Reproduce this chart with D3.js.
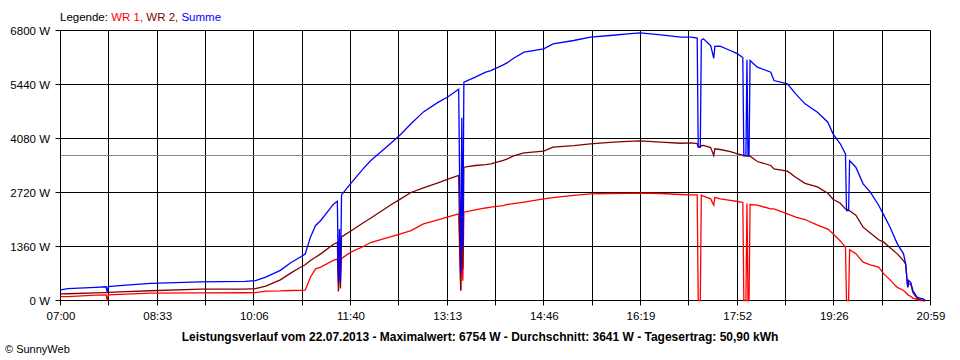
<!DOCTYPE html>
<html>
<head>
<meta charset="utf-8">
<script src="https://cdn.jsdelivr.net/npm/d3@7/dist/d3.min.js"></script>
<style>
  html, body { margin: 0; padding: 0; background: #ffffff; }
  svg { display: block; }
  text { font-family: "Liberation Sans", Arial, sans-serif; }
</style>
</head>
<body>
<svg id="chart" width="960" height="360"></svg>
<script>
// ---- data ----
const times = [
  "07:00","07:07","07:34","07:44","07:45","07:46","08:03","08:27","09:15","09:58",
  "10:08","10:18","10:32","10:42","10:51","10:56","11:01","11:06","11:11","11:23",
  "11:27","11:28","11:29","11:30","11:31","11:40","11:52","11:59","12:18","12:28",
  "12:38","12:50","13:04","13:13","13:24","13:25","13:26","13:27","13:28","13:29",
  "13:40","13:50","13:55","14:07","14:11","14:17","14:27","14:46","14:55","15:15",
  "15:31","15:50","16:07","16:19","16:39","16:58","17:08","17:14","17:15","17:17",
  "17:18","17:20","17:27","17:30","17:31","17:36","17:46","17:53","17:58","17:59",
  "18:01","18:02","18:03","18:04","18:05","18:12","18:25","18:28","18:41","18:49",
  "18:58","19:10","19:20","19:25","19:32","19:37","19:38","19:40","19:41","19:47",
  "19:54","20:01","20:09","20:14","20:20","20:27","20:33","20:35","20:37","20:38",
  "20:40","20:42","20:46","20:49","20:52","20:54"
];
const wr1 = [
  100,100,135,140,0,140,160,185,190,195,
  200,235,240,252,255,260,587,797,840,1010,
  1040,650,900,700,1060,1217,1360,1460,1600,1680,
  1760,1931,2030,2099,2183,1200,250,1800,500,2224,
  2280,2330,2350,2390,2418,2440,2480,2560,2590,2650,
  2686,2695,2700,2703,2695,2670,2660,2660,0,0,
  2650,2627,2560,2400,2600,2560,2520,2493,2470,0,
  0,2440,0,0,2418,2400,2308,2308,2183,2099,
  2040,1900,1800,1679,1500,1343,0,0,1280,1180,
  965,900,840,671,520,330,252,200,150,130,
  100,60,30,0,0,0
];
const wr2 = [
  168,170,190,200,200,205,225,245,285,285,
  300,360,520,690,830,900,1007,1091,1175,1410,
  1460,230,1000,300,1600,1750,1960,2070,2400,2560,
  2720,2837,2963,3050,3150,1500,250,2800,800,3357,
  3400,3420,3442,3530,3568,3640,3720,3760,3861,3900,
  3946,3980,4010,4021,3990,3960,3971,3950,3880,3861,
  3900,3904,3850,3650,3820,3803,3750,3694,3660,3640,
  3640,3634,3634,3634,3634,3500,3400,3316,3256,3106,
  2950,2860,2700,2550,2450,2308,2300,2280,2260,2150,
  1847,1700,1530,1469,1330,1175,1000,924,335,420,
  420,200,60,20,0,0
];
const summe = [
  269,300,330,345,210,350,385,430,470,480,
  500,590,760,950,1090,1170,1595,1889,2015,2420,
  2500,450,1800,500,2660,2950,3320,3520,3950,4180,
  4450,4750,4990,5120,5320,2800,680,4600,1300,5498,
  5624,5750,5792,5935,5990,6103,6254,6337,6463,6548,
  6631,6674,6715,6741,6690,6631,6631,6610,3861,3861,
  6560,6590,6422,6100,6400,6405,6296,6212,6120,3652,
  3652,6060,3652,3652,6044,5876,5750,5540,5457,5205,
  4953,4743,4491,4197,3946,3694,2267,2267,3526,3357,
  2938,2728,2400,2150,1847,1427,1175,924,335,504,
  450,252,84,60,42,0
];
const seriesNames = ["WR 1", "WR 2", "Summe"];
const seriesColors = ["#ff0000", "#800000", "#0000ff"];
const yTicks = [0, 1360, 2720, 4080, 5440, 6800];
const xTickLabels = ["07:00","08:33","10:06","11:40","13:13","14:46","16:19","17:52","19:26","20:59"];
const average = 3641;
const titleText = "Leistungsverlauf vom 22.07.2013 - Maximalwert: 6754 W - Durchschnitt: 3641 W - Tagesertrag: 50,90 kWh";
const copyright = "\u00A9 SunnyWeb";

// ---- chart ----
(function () {
const svg = d3.select("#chart");
const parse = d3.timeParse("%H:%M");
const t0 = parse("07:00"), t1 = parse("20:59");
const mLeft = 60, mRight = 930, mTop = 30, mBottom = 300;

const x = d3.scaleTime().domain([t0, t1]).range([mLeft + 0.5, mRight + 0.5]);
const y = d3.scaleLinear().domain([0, 6800]).range([mBottom + 0.5, mTop + 0.5]);

const nInt = 18;
const xTickVals = d3.range(nInt + 1).map(i => new Date(+t0 + i * (t1 - t0) / nInt));
const crisp = v => Math.round(v - 0.5) + 0.5;

const grid = svg.append("g");
grid.selectAll("line.v").data(xTickVals).join("line")
  .attr("x1", d => crisp(x(d))).attr("x2", d => crisp(x(d)))
  .attr("y1", y(6800)).attr("y2", y(0) + 5)
  .attr("stroke", "#000").attr("stroke-width", 1);
grid.selectAll("line.h").data(yTicks).join("line")
  .attr("x1", x(t0) - 5).attr("x2", x(t1))
  .attr("y1", d => crisp(y(d))).attr("y2", d => crisp(y(d)))
  .attr("stroke", "#000").attr("stroke-width", 1);

svg.append("line")
  .attr("x1", x(t0) + 0.5).attr("x2", x(t1) - 0.5)
  .attr("y1", crisp(y(average))).attr("y2", crisp(y(average)))
  .attr("stroke", "#888").attr("stroke-width", 1);

const yAxis = d3.axisLeft(y).tickValues(yTicks).tickSize(0).tickPadding(10).tickFormat(d => d + " W");
const ya = svg.append("g").attr("transform", `translate(${mLeft},0)`).call(yAxis);
ya.select(".domain").remove();
ya.selectAll("text").attr("font-size", 11.5).attr("fill", "#000")
  .attr("font-family", "'Liberation Sans', Arial, sans-serif");

const xAxis = d3.axisBottom(x).tickValues(xTickVals).tickSize(0).tickPadding(12)
  .tickFormat((d, i) => i % 2 === 0 ? xTickLabels[i / 2] : "");
const xa = svg.append("g").attr("transform", `translate(0,${mBottom})`).call(xAxis);
xa.select(".domain").remove();
xa.selectAll("text").attr("font-size", 11.5).attr("fill", "#000")
  .attr("font-family", "'Liberation Sans', Arial, sans-serif");

const seriesData = [wr1, wr2, summe];
const line = d3.line().x(d => x(d[0])).y(d => y(d[1]));
seriesData.forEach((vals, k) => {
  const pts = times.map((t, i) => [parse(t), vals[i]]);
  svg.append("path").datum(pts)
    .attr("d", line)
    .attr("fill", "none")
    .attr("stroke", seriesColors[k])
    .attr("stroke-width", 1.3)
    .attr("stroke-linejoin", "miter");
});

const leg = svg.append("text").attr("x", 60).attr("y", 21).attr("font-size", 11.5);
leg.append("tspan").attr("fill", "#000").text("Legende: ");
seriesNames.forEach((n, i) => {
  leg.append("tspan").attr("fill", seriesColors[i]).text(n + (i < seriesNames.length - 1 ? ", " : ""));
});

svg.append("text").attr("x", 480).attr("y", 341).attr("text-anchor", "middle")
  .attr("font-size", 12).attr("font-weight", "bold").attr("fill", "#000").text(titleText);

svg.append("text").attr("x", 5).attr("y", 353).attr("font-size", 11).attr("fill", "#000").text(copyright);
})();
</script>
</body>
</html>
